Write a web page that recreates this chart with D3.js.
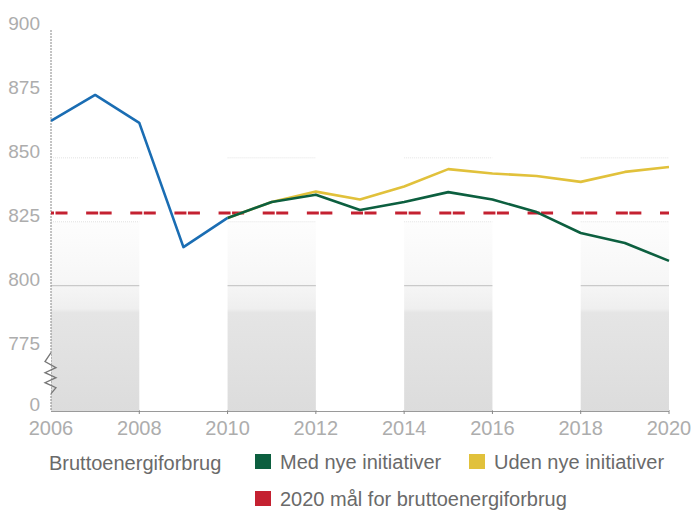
<!DOCTYPE html>
<html>
<head>
<meta charset="utf-8">
<script src="https://cdn.jsdelivr.net/npm/d3@7"></script>
<style>
  body { margin: 0; background: #fff; }
  text { font-family: "Liberation Sans", Arial, sans-serif; }
  .tick-label { fill: #adadad; font-size: 19px; }
  .legend text { fill: #6a6a6a; font-size: 20px; }
</style>
</head>
<body>
<svg width="692" height="511"></svg>
<script>
const years       = d3.range(2006, 2021);
const histYears   = [2006, 2007, 2008, 2009, 2010];
const histValues  = [864.5, 874.6, 863.7, 815.1, 826.5];
const scenYears   = [2010, 2011, 2012, 2013, 2014, 2015, 2016, 2017, 2018, 2019, 2020];
const withNew     = [826.5, 832.7, 835.6, 829.6, 832.7, 836.6, 833.7, 828.8, 820.6, 816.7, 809.7];
const withoutNew  = [826.5, 832.7, 836.8, 833.7, 838.8, 845.6, 843.9, 842.9, 840.6, 844.5, 846.4];
const target2020  = 828.4;
const yTicks      = [0, 775, 800, 825, 850, 875, 900];
const xTicks      = [2006, 2008, 2010, 2012, 2014, 2016, 2018, 2020];
const bandStarts  = [2006, 2010, 2014, 2018];

const colors = { hist: "#1a6db3", med: "#0c5f3f", uden: "#e1c13b", target: "#c42131" };

const svg = d3.select("svg");

const x = d3.scaleLinear().domain([2006, 2020]).range([51, 669]);
// broken axis: everything below ~751 collapses to the bottom
const y = d3.scaleLinear().domain([0, 751, 900]).range([411, 411, 30]);

// gradient for bands
const defs = svg.append("defs");
const grad = defs.append("linearGradient")
    .attr("id", "band")
    .attr("x1", 0).attr("y1", 0).attr("x2", 0).attr("y2", 1);
[[0, "#fdfdfd"], [0.3, "#f7f7f7"], [0.46, "#efefef"], [0.48, "#e5e5e5"], [1, "#dcdcdc"]]
  .forEach(([o, c]) => grad.append("stop").attr("offset", o).attr("stop-color", c));

// x axis baseline + ticks
const xAxis = svg.append("g");
xAxis.append("line")
    .attr("x1", x(2006)).attr("x2", x(2020))
    .attr("y1", y(0) + 0.5).attr("y2", y(0) + 0.5)
    .attr("stroke", "#9a9a9a").attr("stroke-width", 1);
xAxis.selectAll(".xt")
  .data(xTicks.slice(1))
  .enter().append("line")
    .attr("x1", d => x(d)).attr("x2", d => x(d))
    .attr("y1", y(0) - 1).attr("y2", y(0) + 3)
    .attr("stroke", "#888");

// bands
const bands = svg.append("g");
bandStarts.forEach(b => {
  const g = bands.append("g");
  g.append("rect")
      .attr("x", x(b)).attr("width", x(b + 2) - x(b))
      .attr("y", y(825)).attr("height", y(0) - y(825))
      .attr("fill", "url(#band)");
  [850, 825].forEach(v => g.append("line")
      .attr("x1", x(b)).attr("x2", x(b + 2))
      .attr("y1", y(v)).attr("y2", y(v))
      .attr("stroke", "#e2e2e2").attr("stroke-dasharray", "1,1"));
  g.append("line")
      .attr("x1", x(b)).attr("x2", x(b + 2))
      .attr("y1", y(800)).attr("y2", y(800))
      .attr("stroke", "#c9c9c9").attr("stroke-width", 1.2);
});

// y axis
const yAxis = svg.append("g");
yAxis.append("line")
    .attr("x1", x(2006)).attr("x2", x(2006))
    .attr("y1", y(900)).attr("y2", y(0))
    .attr("stroke", "#888").attr("stroke-dasharray", "2,1");

const zTop = y(775) + 3;
const zig = [[0, 0], [-6, 9], [5, 15], [-6, 20], [5, 25], [-6, 30], [5, 35], [0, 41]];
yAxis.append("rect")
    .attr("x", x(2006) - 7).attr("y", zTop)
    .attr("width", 7).attr("height", 41).attr("fill", "#fff");
yAxis.append("path")
    .attr("d", d3.line()(zig.map(([dx, dy]) => [x(2006) + dx, zTop + dy])))
    .attr("fill", "none").attr("stroke", "#777").attr("stroke-width", 1.3);

yAxis.selectAll(".tick-label")
  .data(yTicks)
  .enter().append("text")
    .attr("class", "tick-label")
    .attr("x", 40)
    .attr("y", d => y(d))
    .attr("text-anchor", "end")
    .text(d => d);

svg.append("g").selectAll("text")
  .data(xTicks)
  .enter().append("text")
    .attr("class", "tick-label")
    .style("font-size", "20px")
    .attr("x", d => x(d))
    .attr("y", 435)
    .attr("text-anchor", "middle")
    .text(d => d);

// target line
const period = x(2007) - x(2006);
svg.append("line")
    .attr("x1", x(2006)).attr("x2", x(2020))
    .attr("y1", y(target2020)).attr("y2", y(target2020))
    .attr("stroke", colors.target).attr("stroke-width", 3)
    .attr("stroke-dasharray", `12,1.5,12,${period - 25.5}`)
    .attr("stroke-dashoffset", 9);

// lines
const line = d3.line().x(d => x(d[0])).y(d => y(d[1]));
const drawSeries = (xs, vs, color) => svg.append("path")
    .datum(xs.map((yr, i) => [yr, vs[i]]))
    .attr("d", line)
    .attr("fill", "none")
    .attr("stroke", color)
    .attr("stroke-width", 2.6)
    .attr("stroke-linejoin", "round");

drawSeries(scenYears, withoutNew, colors.uden);
drawSeries(scenYears, withNew, colors.med);
drawSeries(histYears, histValues, colors.hist);

// legend
const legend = svg.append("g").attr("class", "legend");
legend.append("text").attr("x", 49).attr("y", 470).text("Bruttoenergiforbrug");
const items = [
  { label: "Med nye initiativer", color: colors.med, x: 255, y: 469 },
  { label: "Uden nye initiativer", color: colors.uden, x: 469, y: 469 },
  { label: "2020 mål for bruttoenergiforbrug", color: colors.target, x: 255, y: 506 }
];
const it = legend.selectAll(".item").data(items).enter().append("g");
it.append("rect")
    .attr("x", d => d.x).attr("y", d => d.y - 15)
    .attr("width", 16).attr("height", 15)
    .attr("fill", d => d.color);
it.append("text")
    .attr("x", d => d.x + 25).attr("y", d => d.y)
    .text(d => d.label);
</script>
</body>
</html>
